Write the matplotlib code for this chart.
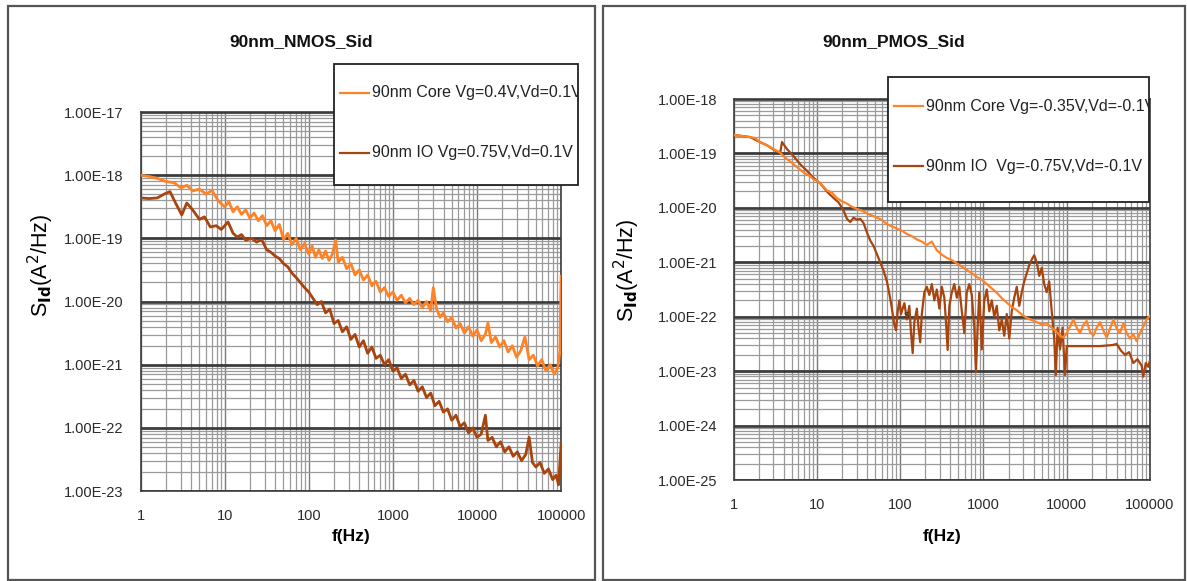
import numpy as np
import matplotlib.pyplot as plt
from matplotlib.patches import Rectangle
from matplotlib.lines import Line2D
from matplotlib.ticker import LogLocator, FixedLocator, NullFormatter

plt.rcParams['font.family'] = ['Liberation Sans', 'DejaVu Sans']

# ---- NMOS: log10(f) and log10(Sid) ----
nmos_core_lf = [0.00, 0.10, 0.20, 0.30, 0.40, 0.48, 0.55, 0.62, 0.70, 0.78, 0.85, 0.92,
                1.00, 1.05, 1.10, 1.15, 1.20, 1.25, 1.30, 1.35, 1.40, 1.45, 1.50, 1.55,
                1.60, 1.65, 1.70, 1.75, 1.80, 1.85, 1.90, 1.95, 2.00, 2.04, 2.08, 2.12,
                2.16, 2.20, 2.24, 2.28, 2.32, 2.35, 2.40, 2.45, 2.50, 2.55, 2.60, 2.65,
                2.70, 2.75, 2.80, 2.85, 2.90, 2.95, 3.00, 3.05, 3.10, 3.15, 3.20, 3.25,
                3.30, 3.35, 3.40, 3.45, 3.48, 3.52, 3.56, 3.60, 3.65, 3.70, 3.75, 3.80,
                3.85, 3.90, 3.95, 4.00, 4.05, 4.10, 4.13, 4.17, 4.22, 4.27, 4.32, 4.37,
                4.42, 4.47, 4.52, 4.57, 4.62, 4.67, 4.72, 4.77, 4.82, 4.87, 4.92, 4.96,
                4.985, 5.00]
nmos_core_ls = [-18.00, -18.02, -18.05, -18.10, -18.12, -18.20, -18.16, -18.25, -18.22, -18.30, -18.24, -18.40,
                -18.50, -18.42, -18.58, -18.50, -18.62, -18.55, -18.68, -18.60, -18.72, -18.64, -18.80, -18.72,
                -18.88, -18.78, -19.02, -18.92, -19.10, -19.00, -19.18, -19.08, -19.25, -19.12, -19.30, -19.18,
                -19.32, -19.20, -19.35, -19.25, -19.03, -19.38, -19.30, -19.48, -19.40, -19.58, -19.50, -19.66,
                -19.58, -19.75, -19.68, -19.85, -19.78, -19.92, -19.85, -19.98, -19.90, -20.02, -19.95, -20.05,
                -19.98, -20.10, -20.00, -20.15, -19.78, -20.12, -20.25, -20.18, -20.32, -20.25, -20.42, -20.35,
                -20.50, -20.40, -20.55, -20.45, -20.62, -20.52, -20.34, -20.65, -20.56, -20.72, -20.62, -20.80,
                -20.70, -20.88, -20.78, -20.56, -20.92, -20.85, -21.02, -20.92, -21.10, -21.00, -21.15, -21.05,
                -20.80, -19.60]

nmos_io_lf = [0.00, 0.10, 0.20, 0.28, 0.35, 0.42, 0.49, 0.55, 0.62, 0.70, 0.76, 0.83,
              0.90, 0.96, 1.04, 1.10, 1.15, 1.20, 1.25, 1.32, 1.38, 1.44, 1.50, 1.55,
              1.60, 1.65, 1.70, 1.75, 1.80, 1.85, 1.90, 1.95, 2.00, 2.05, 2.10, 2.15,
              2.20, 2.25, 2.30, 2.35, 2.40, 2.45, 2.50, 2.55, 2.60, 2.65, 2.70, 2.75,
              2.80, 2.85, 2.90, 2.95, 3.00, 3.05, 3.10, 3.15, 3.20, 3.25, 3.30, 3.35,
              3.40, 3.45, 3.50, 3.55, 3.60, 3.65, 3.70, 3.75, 3.80, 3.85, 3.90, 3.95,
              4.00, 4.05, 4.10, 4.13, 4.18, 4.23, 4.28, 4.33, 4.38, 4.43, 4.48, 4.53,
              4.58, 4.62, 4.66, 4.70, 4.75, 4.80, 4.85, 4.90, 4.94, 4.97, 5.00]
nmos_io_ls = [-18.36, -18.37, -18.36, -18.30, -18.26, -18.45, -18.63, -18.44, -18.55, -18.70, -18.66, -18.82,
              -18.80, -18.86, -18.74, -18.92, -18.98, -18.94, -19.03, -19.00, -19.06, -19.02, -19.18, -19.22,
              -19.28, -19.32, -19.40, -19.45, -19.55, -19.62, -19.70, -19.78, -19.85, -19.95, -20.05, -20.00,
              -20.18, -20.12, -20.35, -20.30, -20.48, -20.40, -20.60, -20.52, -20.72, -20.62, -20.82, -20.72,
              -20.90, -20.85, -21.00, -20.92, -21.10, -21.05, -21.22, -21.15, -21.32, -21.25, -21.42, -21.35,
              -21.52, -21.45, -21.65, -21.58, -21.75, -21.70, -21.88, -21.80, -21.98, -21.92, -22.08, -22.00,
              -22.15, -22.10, -21.80, -22.20, -22.15, -22.30, -22.22, -22.38, -22.30, -22.45, -22.38, -22.52,
              -22.42, -22.15, -22.55, -22.62, -22.55, -22.72, -22.65, -22.82, -22.75, -22.90, -22.25]

# ---- PMOS ----
pmos_core_lf = [0.00, 0.10, 0.20, 0.26, 0.32, 0.40, 0.48, 0.56, 0.62, 0.68, 0.76, 0.84,
                0.92, 0.96, 1.00, 1.06, 1.12, 1.18, 1.24, 1.30, 1.36, 1.42, 1.48, 1.54,
                1.60, 1.66, 1.72, 1.78, 1.84, 1.90, 1.96, 2.02, 2.08, 2.14, 2.20, 2.26,
                2.32, 2.38, 2.44, 2.50, 2.56, 2.62, 2.68, 2.74, 2.80, 2.86, 2.92, 2.98,
                3.04, 3.10, 3.16, 3.22, 3.28, 3.34, 3.40, 3.46, 3.52, 3.58, 3.64, 3.70,
                3.76, 3.82, 3.88, 3.92, 3.96, 4.00, 4.04, 4.08, 4.12, 4.16, 4.20, 4.24,
                4.28, 4.32, 4.36, 4.40, 4.44, 4.48, 4.52, 4.56, 4.60, 4.64, 4.68, 4.72,
                4.76, 4.80, 4.84, 4.88, 4.92, 4.96, 5.00]
pmos_core_ls = [-18.66, -18.68, -18.70, -18.72, -18.80, -18.85, -18.92, -18.99, -19.08, -19.15, -19.25, -19.35,
                -19.42, -19.48, -19.50, -19.58, -19.68, -19.72, -19.82, -19.88, -19.92, -19.98, -20.02, -20.05,
                -20.10, -20.14, -20.18, -20.22, -20.30, -20.34, -20.38, -20.42, -20.48, -20.52, -20.58, -20.62,
                -20.68, -20.62, -20.78, -20.86, -20.92, -20.96, -21.02, -21.08, -21.14, -21.20, -21.27, -21.32,
                -21.40, -21.48, -21.56, -21.66, -21.74, -21.82, -21.88, -21.96, -22.02, -22.06, -22.10, -22.14,
                -22.12, -22.20, -22.28, -22.35, -22.38, -22.30, -22.18, -22.05, -22.20, -22.30, -22.15, -22.08,
                -22.28, -22.35, -22.20, -22.10, -22.25, -22.38, -22.22, -22.05, -22.22, -22.30, -22.12, -22.30,
                -22.40, -22.32, -22.45, -22.30, -22.18, -22.05, -21.98]

pmos_io_lf = [0.00, 0.10, 0.20, 0.30, 0.40, 0.50, 0.56, 0.58, 0.64, 0.72, 0.80, 0.88,
              0.96, 1.04, 1.12, 1.20, 1.26, 1.32, 1.36, 1.40, 1.44, 1.48, 1.52, 1.56,
              1.60, 1.64, 1.68, 1.72, 1.76, 1.80, 1.84, 1.86, 1.89, 1.91, 1.93, 1.95,
              1.97, 1.99, 2.01, 2.03, 2.05, 2.08, 2.11, 2.13, 2.15, 2.17, 2.20, 2.22,
              2.24, 2.26, 2.29, 2.32, 2.35, 2.38, 2.41, 2.44, 2.47, 2.50, 2.53, 2.55,
              2.57, 2.59, 2.62, 2.65, 2.68, 2.71, 2.74, 2.77, 2.80, 2.83, 2.86, 2.89,
              2.91, 2.93, 2.95, 2.98, 3.01, 3.04, 3.07, 3.10, 3.13, 3.16, 3.19, 3.22,
              3.25, 3.28, 3.31, 3.34, 3.37, 3.40, 3.43, 3.46, 3.49, 3.52, 3.55, 3.58,
              3.61, 3.64, 3.67, 3.70, 3.73, 3.76, 3.79, 3.82, 3.85, 3.87, 3.89, 3.92,
              3.95, 3.98, 4.00, 4.20, 4.40, 4.55, 4.60, 4.65, 4.70, 4.75, 4.80, 4.85,
              4.90, 4.92, 4.95, 4.98, 5.00]
pmos_io_ls = [-18.66, -18.68, -18.70, -18.78, -18.85, -18.95, -18.98, -18.79, -18.92, -19.05, -19.20, -19.32,
              -19.45, -19.55, -19.70, -19.82, -19.90, -20.05, -20.20, -20.26, -20.18, -20.22, -20.20, -20.28,
              -20.45, -20.60, -20.70, -20.85, -21.00, -21.15, -21.35, -21.50, -21.75, -21.95, -22.15, -22.25,
              -21.90, -21.70, -21.95, -21.85, -21.75, -22.05, -21.80, -22.30, -22.67, -22.10, -21.85, -22.20,
              -22.47, -21.95, -21.55, -21.45, -21.60, -21.40, -21.70, -21.50, -21.85, -21.45, -21.65, -22.10,
              -22.61, -21.80, -21.55, -21.40, -21.65, -21.45, -21.90, -22.30, -21.55, -21.40, -21.60, -22.20,
              -23.02, -22.20, -21.55, -22.60, -21.70, -21.50, -21.90, -21.70, -22.00, -21.80, -22.25, -22.05,
              -22.35, -21.95, -22.40, -21.90, -21.65, -21.45, -21.80, -21.55, -21.35, -21.20, -21.05, -20.95,
              -20.87, -21.00, -21.25, -21.10, -21.40, -21.55, -21.35, -21.90, -22.40, -23.07, -22.20, -22.60,
              -22.20, -23.07, -22.54, -22.54, -22.54, -22.52, -22.50, -22.62, -22.70, -22.65, -22.85, -22.78,
              -22.90, -23.10, -22.85, -22.92, -22.80]

core_color = '#FF8226'
io_color = '#A8440E'

panels = [
    dict(title='90nm_NMOS_Sid', rect=[0.1184, 0.1549, 0.3543, 0.6523], ylim=(-23, -17),
         frame=(8, 6, 595, 580), legend=(334, 64, 578, 185), ylab=(-100, 0.596), lw=2.0,
         core=(nmos_core_lf, nmos_core_ls), io=(nmos_io_lf, nmos_io_ls),
         labels=['90nm Core Vg=0.4V,Vd=0.1V', '90nm IO Vg=0.75V,Vd=0.1V']),
    dict(title='90nm_PMOS_Sid', rect=[0.6181, 0.1738, 0.3507, 0.6558], ylim=(-25, -18),
         frame=(603, 6, 1185, 580), legend=(888, 77, 1149, 202), ylab=(-107, 0.551), lw=1.6,
         core=(pmos_core_lf, pmos_core_ls), io=(pmos_io_lf, pmos_io_ls),
         labels=['90nm Core Vg=-0.35V,Vd=-0.1V', '90nm IO  Vg=-0.75V,Vd=-0.1V']),
]

W, H = 1187, 581
fig = plt.figure(figsize=(W / 100, H / 100), dpi=100)


def fx(px):
    return px / W


def fy(py):
    return 1 - py / H


for p in panels:
    ax = fig.add_axes(p['rect'])
    ax.set_xscale('log')
    ax.set_yscale('log')
    lo, hi = p['ylim']
    ax.set_xlim(1, 1e5)
    ax.set_ylim(10.0 ** lo, 10.0 ** hi)

    lf, ls = p['io']
    ax.plot(10.0 ** np.array(lf), 10.0 ** np.array(ls), color=io_color, lw=p['lw'], zorder=3)
    lf, ls = p['core']
    ax.plot(10.0 ** np.array(lf), 10.0 ** np.array(ls), color=core_color, lw=p['lw'], zorder=4)

    ax.xaxis.set_major_locator(FixedLocator([10.0 ** k for k in range(0, 6)]))
    ax.xaxis.set_minor_locator(LogLocator(base=10, subs=np.arange(2, 10), numticks=20))
    ax.yaxis.set_major_locator(FixedLocator([10.0 ** k for k in range(lo, hi + 1)]))
    ax.yaxis.set_minor_locator(LogLocator(base=10, subs=np.arange(2, 10), numticks=20))
    ax.xaxis.set_minor_formatter(NullFormatter())
    ax.yaxis.set_minor_formatter(NullFormatter())
    ax.set_xticklabels(['1', '10', '100', '1000', '10000', '100000'])
    ax.set_yticklabels(['1.00E%d' % k for k in range(lo, hi + 1)])

    ax.grid(which='minor', color='#9a9a9a', lw=0.9)
    ax.grid(which='major', axis='x', color='#7a7a7a', lw=1.0)
    ax.grid(which='major', axis='y', color='#3c3c3c', lw=2.0)
    ax.set_axisbelow(True)
    ax.tick_params(which='both', length=0, labelsize=10.5, colors='#2a2a2a')
    ax.tick_params(axis='x', pad=13)
    ax.tick_params(axis='y', pad=12)
    for sp in ax.spines.values():
        sp.set_color('#3c3c3c')
        sp.set_linewidth(1.2)

    x0, y0, w, h = p['rect']
    fl, ft, fr, fb = p['frame']

    # title centred on the panel frame
    fig.text(fx((fl + fr) / 2), fy(42), p['title'], fontsize=12.5, fontweight='bold',
             ha='center', va='center', color='#111111')

    ax.set_xlabel('f(Hz)', fontsize=12.5, fontweight='bold')
    ax.xaxis.set_label_coords(0.5, (fy(537) - y0) / h)
    ax.xaxis.label.set_verticalalignment('center')
    ax.set_ylabel(r'S$_{\mathbf{Id}}$(A$^2$/Hz)', fontsize=15.5)
    dx, yc = p['ylab']
    ax.yaxis.set_label_coords(dx / (w * W), yc)
    ax.yaxis.label.set_verticalalignment('center')

    # outer panel frame
    fig.add_artist(Rectangle((fx(fl), fy(fb)), fx(fr - fl), (fb - ft) / H,
                             transform=fig.transFigure, fill=False,
                             edgecolor='#555555', lw=1.6, zorder=1))

    # legend box
    l, t, r, b = p['legend']
    box = Rectangle((fx(l), fy(b)), fx(r - l), (b - t) / H, transform=fig.transFigure,
                    facecolor='white', edgecolor='#222222', lw=1.3, zorder=10)
    fig.add_artist(box)
    for i, (lab, col) in enumerate(zip(p['labels'], [core_color, io_color])):
        ly = t + 29 + i * 60
        fig.add_artist(Line2D([fx(l + 6), fx(l + 35)], [fy(ly), fy(ly)],
                              transform=fig.transFigure, color=col, lw=1.6, zorder=11))
        txt = fig.text(fx(l + 38), fy(ly), lab, fontsize=11.5, va='center', ha='left',
                       color='#222222', zorder=11)
        txt.set_clip_path(box)

# stray glyph inside the PMOS plot
fig.axes[1].text(120, 10.0 ** -21.97, 's', fontsize=8, color='#333333',
                 ha='center', va='center', zorder=5)

fig.savefig('out.png', dpi=100, facecolor='white')
